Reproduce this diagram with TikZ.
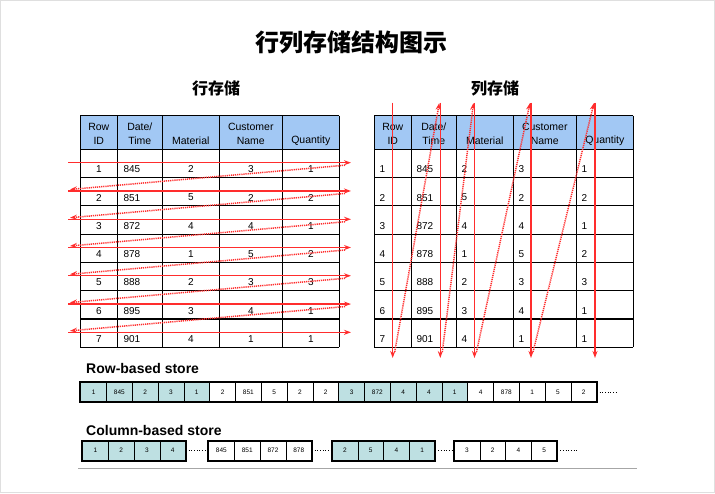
\documentclass[tikz,border=0pt]{standalone}
\usepackage{fontspec}
\setmainfont{Liberation Sans}
\newfontfamily\cjk{Noto Sans CJK SC}
\usetikzlibrary{arrows.meta}
\definecolor{hdrblue}{RGB}{162,200,244}
\definecolor{storeteal}{RGB}{190,224,226}
\definecolor{arrowred}{RGB}{255,45,45}
\tikzset{
  grid line/.style={line width=1.1pt},
  hdtext/.style={font=\fontsize{10.5}{14}\selectfont, align=center, inner sep=0pt},
  cell/.style={font=\fontsize{10}{12}\selectfont, inner sep=0pt},
  fwd/.style={arrowred, line width=1.3pt, -{Stealth[length=7pt,width=5pt]}},
  back/.style={arrowred, line width=1.5pt, dash pattern=on 1.2pt off 0.9pt, -{Stealth[length=7pt,width=5pt]}},
  store/.style={draw, line width=0.5pt, minimum width=25.8pt, minimum height=19.5pt, inner sep=0pt, font=\fontsize{6.5}{7}\selectfont},
  frame/.style={line width=2pt},
  more/.style={dotted, line width=0.7pt},
  label/.style={anchor=west, inner sep=0pt, font=\bfseries\fontsize{14}{16}\selectfont}
}
\begin{document}
\begin{tikzpicture}[x=1pt,y=-1pt]
\useasboundingbox (0,0) rectangle (715,493);
\draw[gray!25] (0.5,0.5) rectangle (714.5,492.5);

\node[font=\cjk\bfseries\fontsize{24}{28}\selectfont] (title) at (351.5,42) {行列存储结构图示};
\node[font=\cjk\bfseries\fontsize{16}{20}\selectfont] (rowtitle) at (216,88) {行存储};
\node[font=\cjk\bfseries\fontsize{16}{20}\selectfont] (coltitle) at (495,88) {列存储};

% the two tables
\foreach \tx/\tn in {80.3/L,374.3/R} {
  \fill[hdrblue] (\tx,115.5) rectangle (\tx+259,149.3);
  \draw[grid line] (\tx,115.5) -- (\tx+259,115.5);
  \foreach \k in {0,...,7}
    \draw[grid line] (\tx,149.3+28.28*\k) -- (\tx+259,149.3+28.28*\k);
  \foreach \cx in {0,37,82,139,202,259}
    \draw[grid line] (\tx+\cx,115.5) -- (\tx+\cx,347.3);
  \node[hdtext] (\tn-h1) at (\tx+18.5,133.7) {Row\\ID};
  \node[hdtext] (\tn-h2) at (\tx+59.5,133.7) {Date/\\Time};
  \node[hdtext] (\tn-h3) at (\tx+110.5,140.7) {Material};
  \node[hdtext] (\tn-h4) at (\tx+170.5,133.7) {Customer\\Name};
  \node[hdtext] (\tn-h5) at (\tx+230.5,140.7) {Quantity};
}
\foreach \r/\d/\m/\c/\q [count=\i from 0] in
    {1/845/2/3/1, 2/851/5/2/2, 3/872/4/4/1, 4/878/1/5/2, 5/888/2/3/3, 6/895/3/4/1, 7/901/4/1/1} {
  \pgfmathsetmacro\ty{149.3+28.28*\i+20}
  \node[cell] (L-\r-1) at (98.8,\ty) {\r};
  \node[cell, anchor=west] (L-\r-2) at (123.3,\ty) {\d};
  \node[cell] (L-\r-3) at (190.8,\ty) {\m};
  \node[cell] (L-\r-4) at (250.8,\ty) {\c};
  \node[cell] (L-\r-5) at (310.8,\ty) {\q};
  \node[cell, anchor=west] (R-\r-1) at (379.3,\ty) {\r};
  \node[cell, anchor=west] (R-\r-2) at (416.3,\ty) {\d};
  \node[cell, anchor=west] (R-\r-3) at (461.3,\ty) {\m};
  \node[cell, anchor=west] (R-\r-4) at (518.3,\ty) {\c};
  \node[cell, anchor=west] (R-\r-5) at (581.3,\ty) {\q};
}

% reading order, row by row
\foreach \i in {1,...,7} {
  \pgfmathsetmacro\ay{162.7+28.27*(\i-1)}
  \coordinate (hs\i) at (68,\ay);
  \coordinate (he\i) at (351,\ay);
  \coordinate (hb\i) at (345,\ay+2.5);
  \coordinate (ha\i) at (70,\ay-1.5);
  \draw[fwd] (hs\i) -- (he\i);
}
\foreach \i [evaluate=\i as \j using int(\i+1)] in {1,...,6}
  \draw[back] (hb\i) -- (ha\j);

% reading order, column by column
\foreach \x [count=\i] in {392.7,440.3,474.5,531,595} {
  \coordinate (vs\i) at (\x,102.5);
  \coordinate (ve\i) at (\x,358);
  \coordinate (vb\i) at (\x+2,352);
  \coordinate (va\i) at (\x-1,103);
  \draw[fwd] (vs\i) -- (ve\i);
}
\foreach \i [evaluate=\i as \j using int(\i+1)] in {1,...,4}
  \draw[back] (vb\i) -- (va\j);

% row-based store
\node[label] (rowlabel) at (86,368) {Row-based store};
\foreach \v [count=\i] in {1,845,2,3,1,2,851,5,2,2,3,872,4,4,1,4,878,1,5,2} {
  \pgfmathtruncatemacro\grp{mod(int((\i-1)/5),2)}
  \ifnum\grp=0 \def\fc{storeteal}\else \def\fc{white}\fi
  \node[store, fill=\fc] (rs\i) at (93.6+25.8*\i-25.8,392) {\v};
}
\draw[frame] (rs1.north west) rectangle (rs20.south east);
\coordinate (rsend) at (618,392);
\draw[more] (rs20.east) -- (rsend);

% column-based store
\node[label] (collabel) at (86,430) {Column-based store};
\foreach \gx/\fc/\vals [count=\g] in {82.5/storeteal/{1,2,3,4}, 208.5/white/{845,851,872,878}, 332/storeteal/{2,5,4,1}, 454/white/{3,2,4,5}} {
  \foreach \v [count=\i] in \vals
    \node[store, fill=\fc] (cs\g-\i) at (\gx+12.9+25.8*\i-25.8,450.5) {\v};
  \draw[frame] (cs\g-1.north west) rectangle (cs\g-4.south east);
}
\coordinate (csend) at (579,450.5);
\draw[more] (cs1-4.east) -- (cs2-1.west);
\draw[more] (cs2-4.east) -- (cs3-1.west);
\draw[more] (cs3-4.east) -- (cs4-1.west);
\draw[more] (cs4-4.east) -- (csend);

\draw[gray!70, line width=1pt] (78,468) -- (637,468);
\end{tikzpicture}
\end{document}
